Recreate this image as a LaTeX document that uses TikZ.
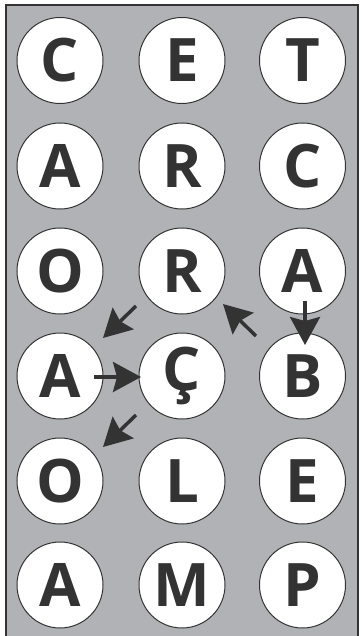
\documentclass[tikz,border=0pt]{standalone}
\usepackage{fontspec}
\setmainfont{Open Sans}
\usetikzlibrary{arrows.meta}
\definecolor{bgrey}{HTML}{B1B2B6}
\definecolor{dgrey}{HTML}{333333}
\begin{document}
\begin{tikzpicture}[x=1pt,y=-1pt,
  letter/.style={circle,draw=dgrey,line width=1pt,fill=white,minimum size=86pt,inner sep=0pt,
    text=dgrey,font=\fontsize{60}{60}\selectfont\bfseries},
  arr/.style={draw=dgrey,line width=3.5pt,-{Stealth[width=30pt,length=28pt,inset=4pt]}}]
\useasboundingbox (0,0) rectangle (361,636);
\draw[fill=bgrey,draw=dgrey,line width=1.3pt] (6,5) rectangle (358,642);
\node[letter] (c11) at (60,60.5) {C};
\node[letter] (c12) at (182,60.5) {E};
\node[letter] (c13) at (302.5,60.5) {T};
\node[letter] (c21) at (60,166) {A};
\node[letter] (c22) at (182,166) {R};
\node[letter] (c23) at (302.5,166) {C};
\node[letter] (c31) at (60,271) {O};
\node[letter] (c32) at (182,271) {R};
\node[letter] (c33) at (302.5,271) {A};
\node[letter] (c41) at (60,376) {A};
\node[letter] (c42) at (182,376) {Ç};
\node[letter] (c43) at (302.5,376) {B};
\node[letter] (c51) at (60,481) {O};
\node[letter] (c52) at (182,481) {L};
\node[letter] (c53) at (302.5,481) {E};
\node[letter] (c61) at (60,585) {A};
\node[letter] (c62) at (182,585) {M};
\node[letter] (c63) at (302.5,585) {P};
\coordinate (a1s) at (305,301);
\coordinate (a1e) at (305,345);
\coordinate (a2s) at (256,336);
\coordinate (a2e) at (223,304);
\coordinate (a3s) at (136,306);
\coordinate (a3e) at (103,338);
\coordinate (a4s) at (94,377);
\coordinate (a4e) at (141,377);
\coordinate (a5s) at (136,415);
\coordinate (a5e) at (103,447);
\draw[arr] (a1s) -- (a1e);
\draw[arr] (a2s) -- (a2e);
\draw[arr] (a3s) -- (a3e);
\draw[arr] (a4s) -- (a4e);
\draw[arr] (a5s) -- (a5e);
\end{tikzpicture}
\end{document}
